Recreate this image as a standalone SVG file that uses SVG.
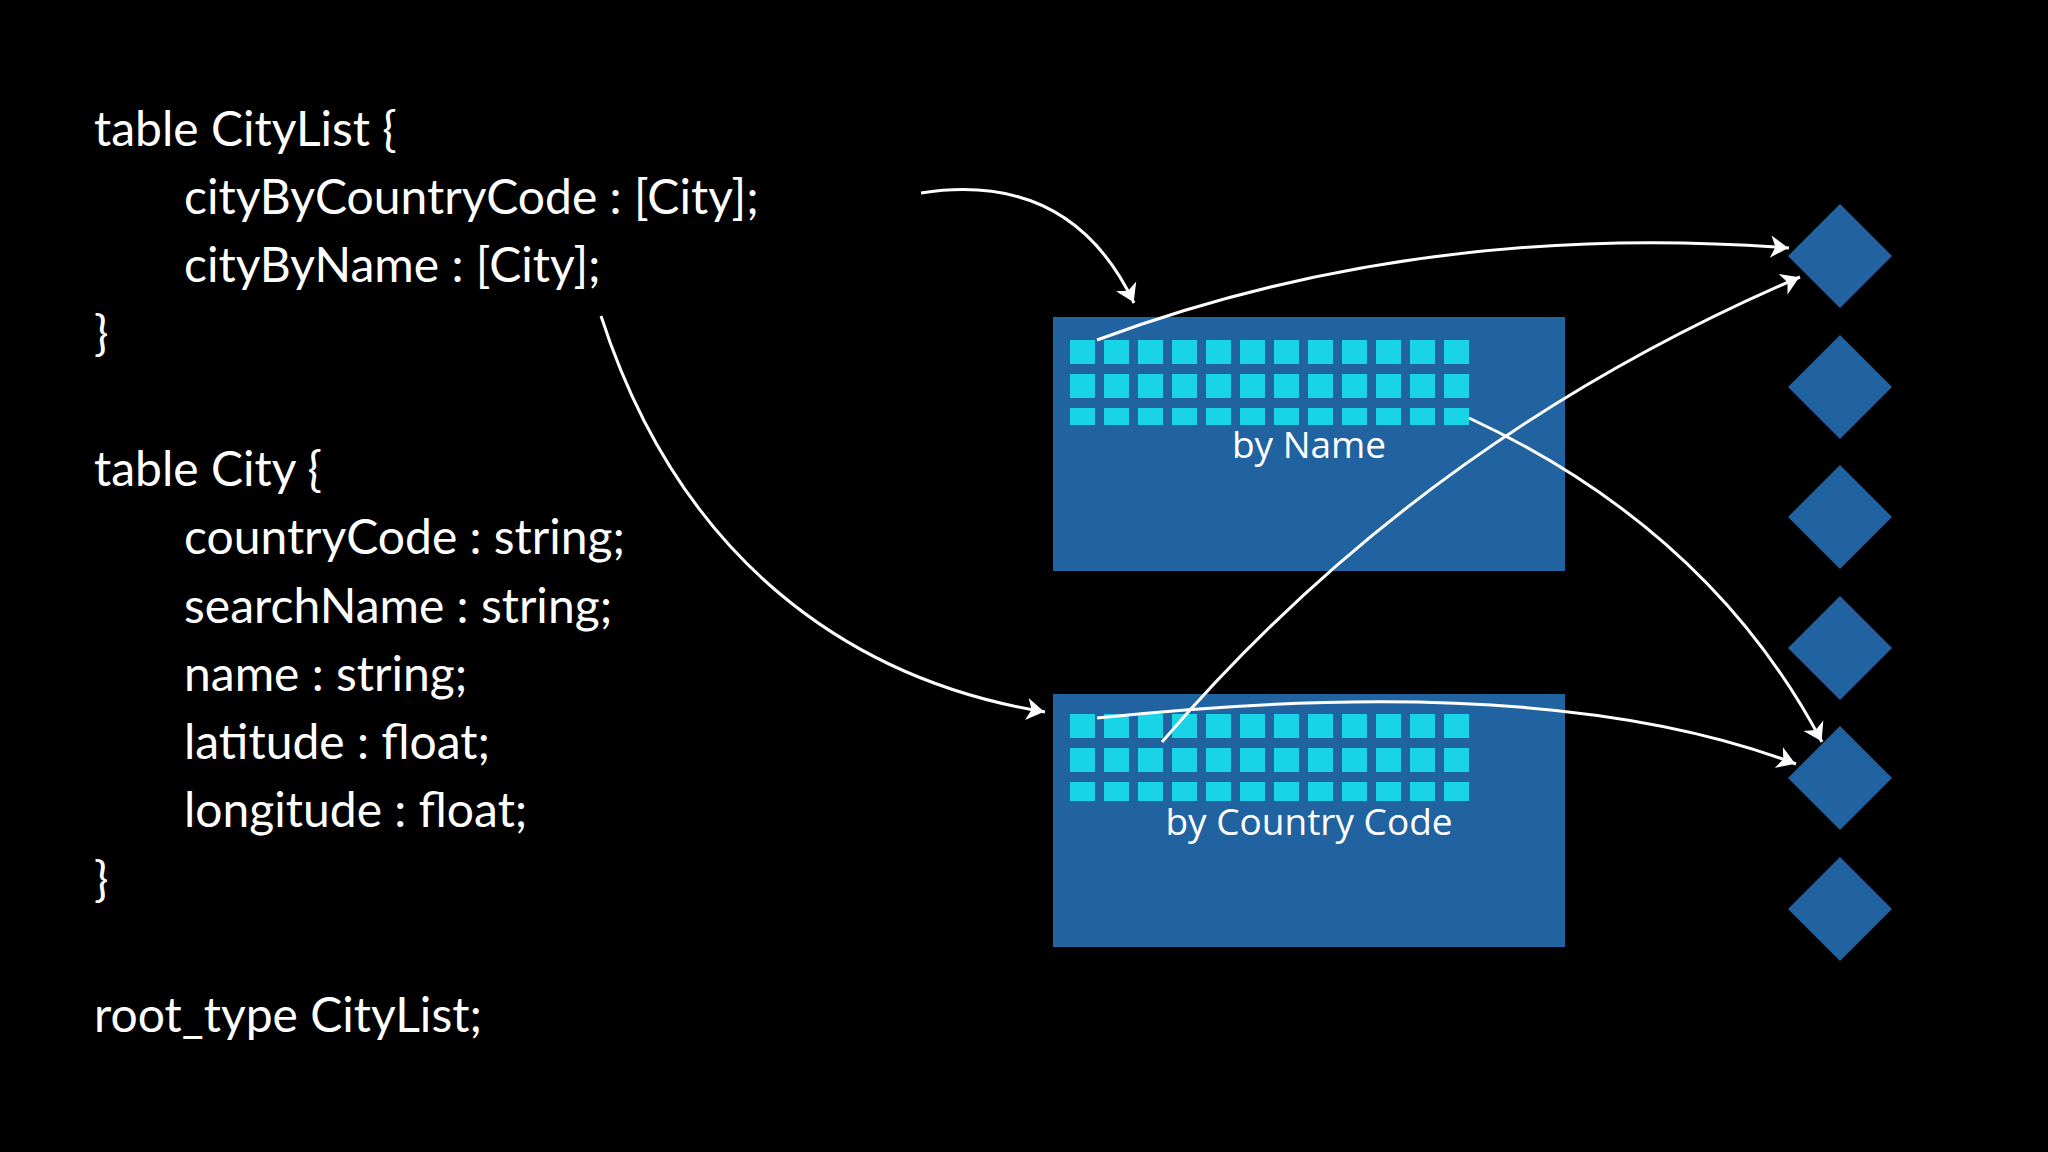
<svg xmlns="http://www.w3.org/2000/svg" width="2048" height="1152" viewBox="0 0 2048 1152">
<style>
.code{font-family:Lato,"Open Sans",sans-serif;font-size:48px;fill:#fff}
.lbl{font-family:"Open Sans",Lato,sans-serif;font-size:37px;fill:#fff;text-anchor:middle}
.box{fill:#2163a0}
.cell{fill:#19d3e6}
.dia{fill:#2163a0}
.arr{fill:none;stroke:#fff;stroke-width:3;marker-end:url(#ah)}
</style>
<defs>
<marker id="ah" viewBox="0 0 10 10" refX="9" refY="5" markerWidth="8" markerHeight="8" orient="auto" markerUnits="userSpaceOnUse" style="overflow:visible"><path d="M-14,-9 L8,5 L-14,19 L-8,5 Z" fill="#fff" transform="scale(1)"/></marker>
<pattern id="cells" x="1070" y="0" width="34" height="34" patternUnits="userSpaceOnUse"><rect width="25" height="24" class="cell"/></pattern>
</defs>
<rect width="2048" height="1152" fill="#000"/>
<g id="code">
<text class="code" x="94" y="146">table CityList {</text>
<text class="code" x="184" y="214">cityByCountryCode : [City];</text>
<text class="code" x="184" y="282">cityByName : [City];</text>
<text class="code" x="94" y="350">}</text>
<text class="code" x="94" y="486">table City {</text>
<text class="code" x="184" y="554">countryCode : string;</text>
<text class="code" x="184" y="623">searchName : string;</text>
<text class="code" x="184" y="691">name : string;</text>
<text class="code" x="184" y="759">latitude : float;</text>
<text class="code" x="184" y="827">longitude : float;</text>
<text class="code" x="94" y="896">}</text>
<text class="code" x="94" y="1032">root_type CityList;</text>
</g>
<g id="byName">
<rect class="box" x="1053" y="317" width="512" height="254"/>
<rect x="1070" y="333" width="399" height="92" fill="url(#cells)" transform="translate(0,0)"/>
<text class="lbl" x="1309" y="458">by Name</text>
</g>
<g id="byCountry">
<rect class="box" x="1053" y="694" width="512" height="253"/>
<rect x="1070" y="709" width="399" height="92" fill="url(#cells)"/>
<text class="lbl" x="1309" y="835">by Country Code</text>
</g>
<g id="diamonds">
<path class="dia" d="M1840,204 l52,52 -52,52 -52,-52z"/>
<path class="dia" d="M1840,335 l52,52 -52,52 -52,-52z"/>
<path class="dia" d="M1840,465 l52,52 -52,52 -52,-52z"/>
<path class="dia" d="M1840,596 l52,52 -52,52 -52,-52z"/>
<path class="dia" d="M1840,726 l52,52 -52,52 -52,-52z"/>
<path class="dia" d="M1840,857 l52,52 -52,52 -52,-52z"/>
</g>
<g id="connectors">
<path class="arr" d="M921,193 Q1071,170 1134,303"/>
<path class="arr" d="M601,316 C680,560 850,680 1045,712"/>
<path class="arr" d="M1097,340 Q1420,220 1789,248"/>
<path class="arr" d="M1162,742 Q1420,440 1800,277"/>
<path class="arr" d="M1469,418 Q1710,530 1822,742"/>
<path class="arr" d="M1097,718 Q1550,670 1796,764"/>
</g>
</svg>
